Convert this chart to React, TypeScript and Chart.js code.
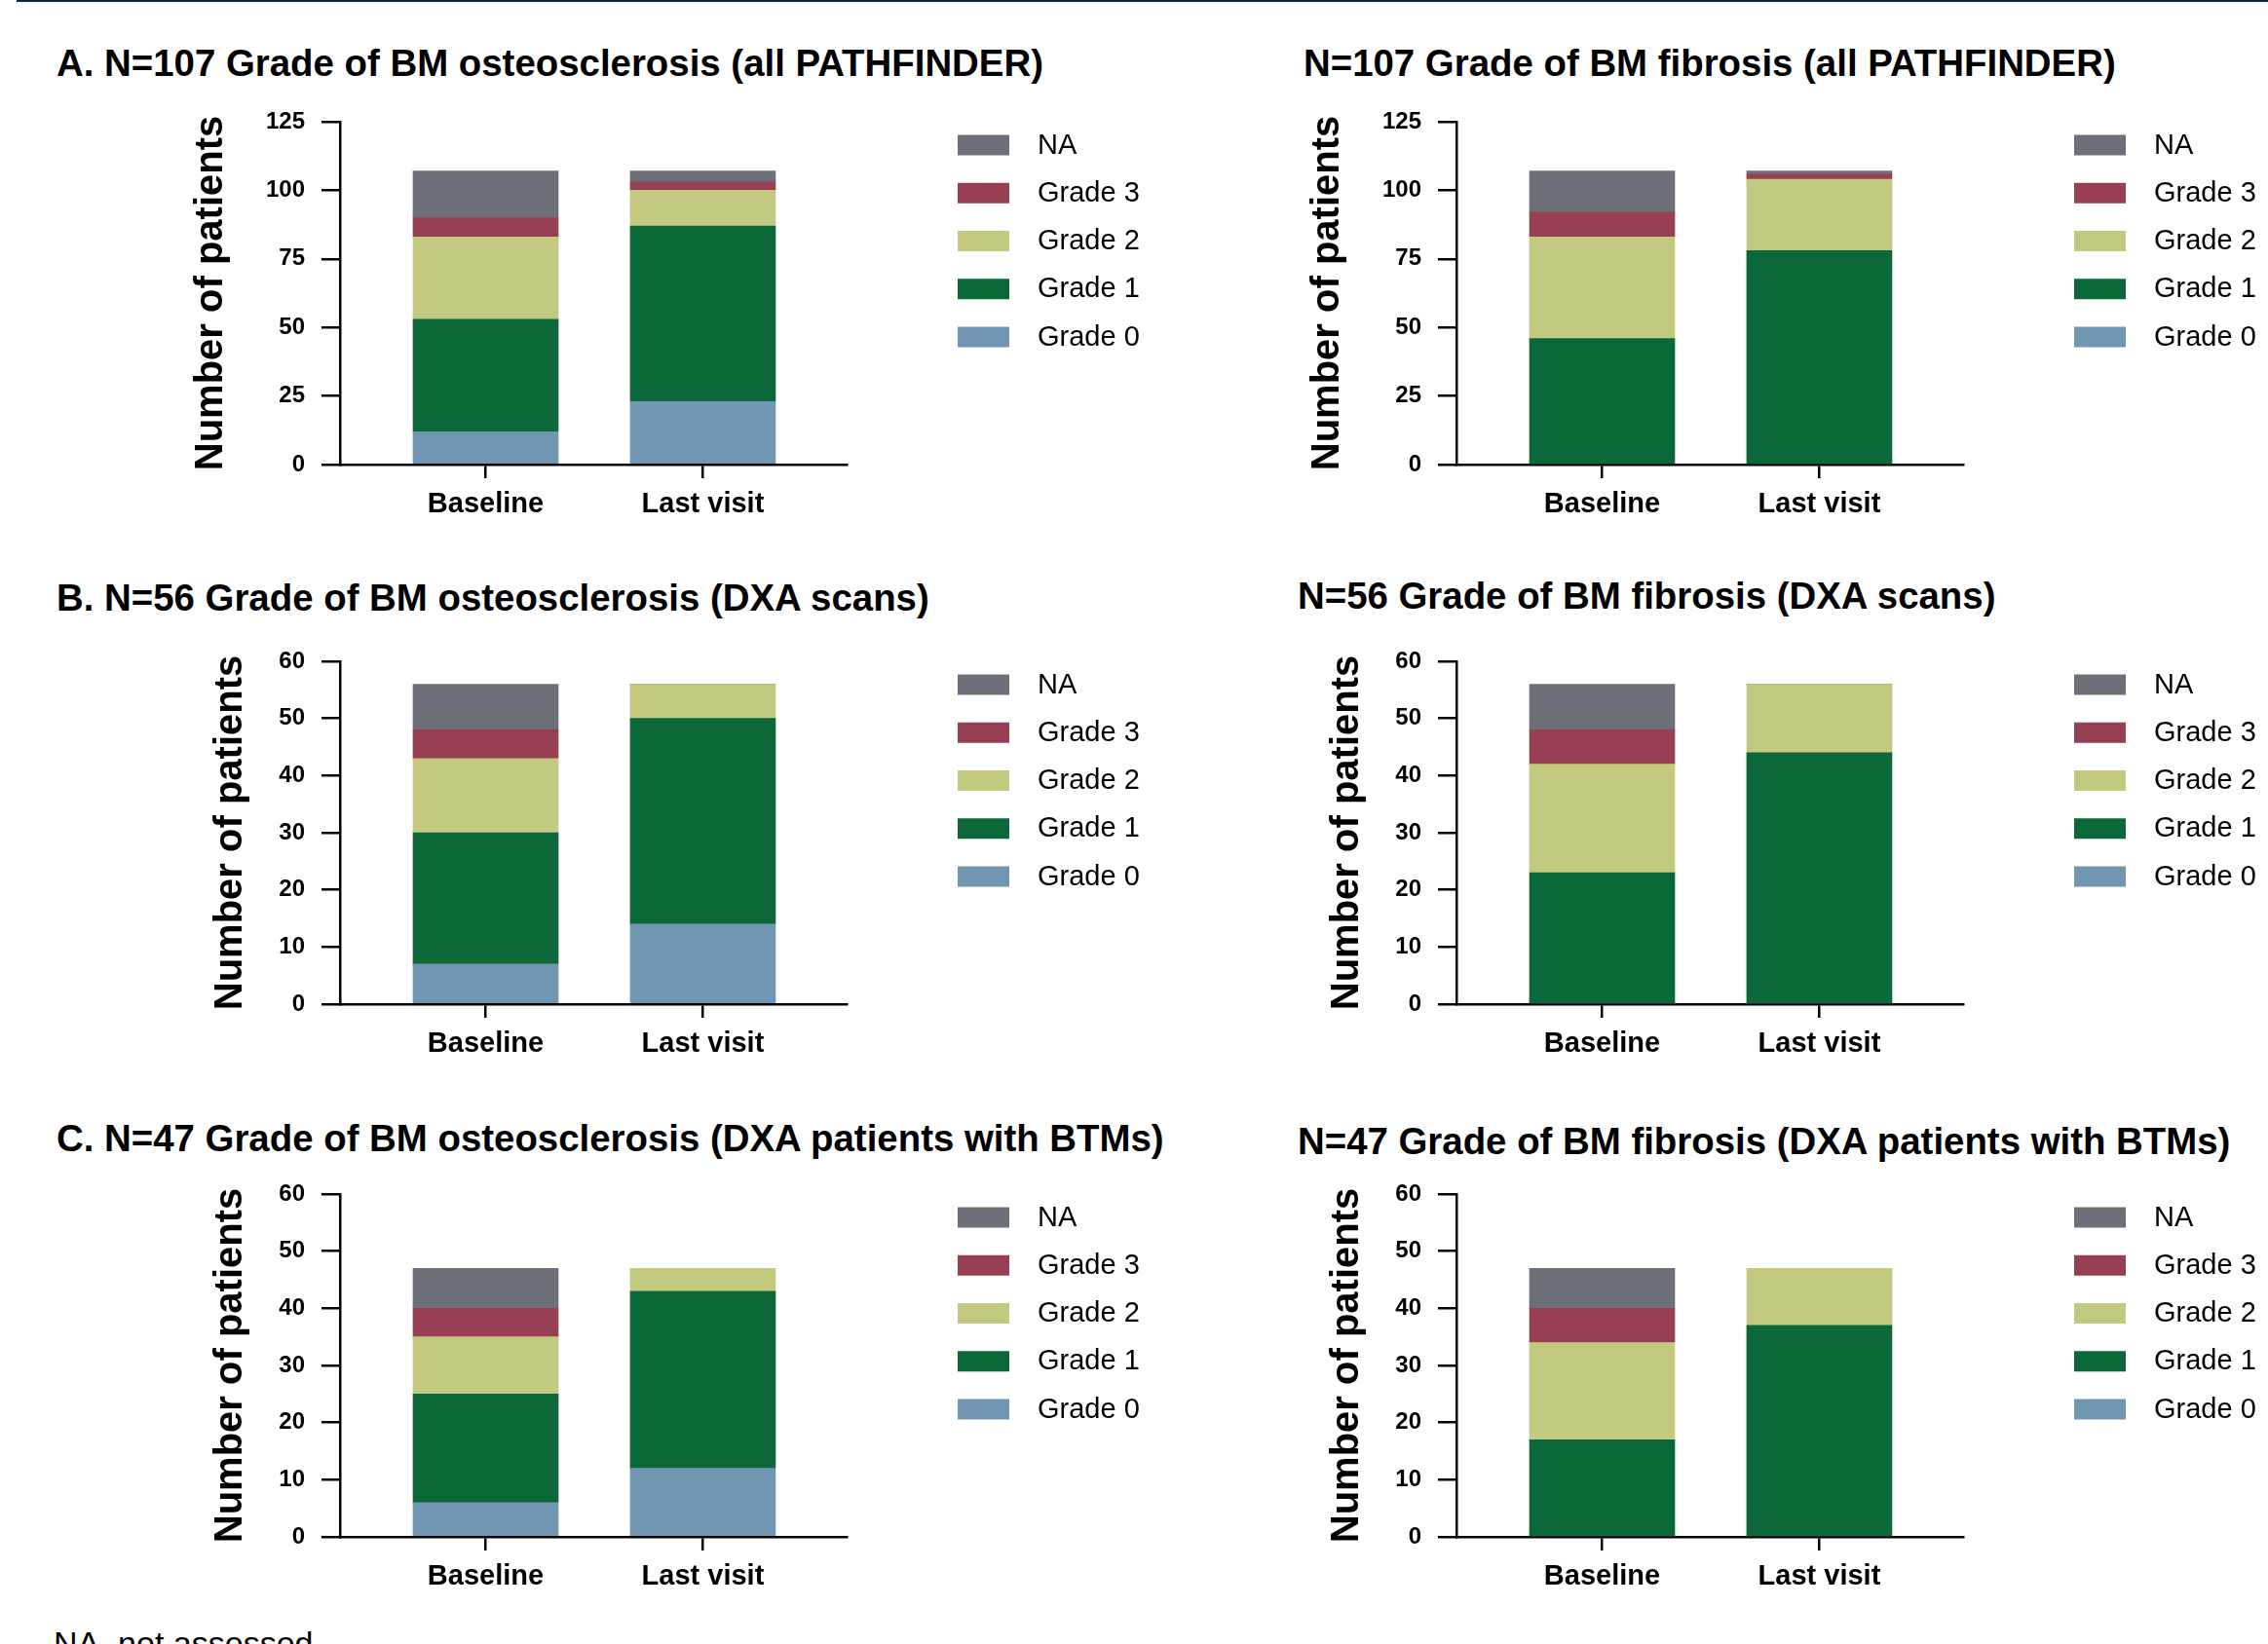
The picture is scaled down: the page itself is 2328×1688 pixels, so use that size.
import React, { useEffect, useRef } from 'react';
import { Chart, registerables } from 'chart.js';

Chart.register(...registerables);

const FONT = "'Liberation Sans', Arial, Helvetica, sans-serif";
Chart.defaults.font.family = FONT;
Chart.defaults.color = '#000';

// ---------- data ----------
const categories = ['Baseline', 'Last visit'];
const gradeLabels = ['Grade 0', 'Grade 1', 'Grade 2', 'Grade 3', 'NA'];
const gradeColors = ['#7096b1', '#0c6838', '#c3c97e', '#983f53', '#6d7078'];

// A. osteosclerosis, all PATHFINDER (N=107)
const osteoAllGrade0 = [12, 23];
const osteoAllGrade1 = [41, 64];
const osteoAllGrade2 = [30, 13];
const osteoAllGrade3 = [7, 3];
const osteoAllNA = [17, 4];

// A. fibrosis, all PATHFINDER (N=107)
const fibAllGrade0 = [0, 0];
const fibAllGrade1 = [46, 78];
const fibAllGrade2 = [37, 26];
const fibAllGrade3 = [9, 2];
const fibAllNA = [15, 1];

// B. osteosclerosis, DXA scans (N=56)
const osteoDxaGrade0 = [7, 14];
const osteoDxaGrade1 = [23, 36];
const osteoDxaGrade2 = [13, 6];
const osteoDxaGrade3 = [5, 0];
const osteoDxaNA = [8, 0];

// B. fibrosis, DXA scans (N=56)
const fibDxaGrade0 = [0, 0];
const fibDxaGrade1 = [23, 44];
const fibDxaGrade2 = [19, 12];
const fibDxaGrade3 = [6, 0];
const fibDxaNA = [8, 0];

// C. osteosclerosis, DXA patients with BTMs (N=47)
const osteoBtmGrade0 = [6, 12];
const osteoBtmGrade1 = [19, 31];
const osteoBtmGrade2 = [10, 4];
const osteoBtmGrade3 = [5, 0];
const osteoBtmNA = [7, 0];

// C. fibrosis, DXA patients with BTMs (N=47)
const fibBtmGrade0 = [0, 0];
const fibBtmGrade1 = [17, 37];
const fibBtmGrade2 = [17, 10];
const fibBtmGrade3 = [6, 0];
const fibBtmNA = [7, 0];

const yTicks125 = { max: 125, step: 25 };
const yTicks60 = { max: 60, step: 10 };

const panels = [
  { title: 'A. N=107 Grade of BM osteosclerosis (all PATHFINDER)', series: [osteoAllGrade0, osteoAllGrade1, osteoAllGrade2, osteoAllGrade3, osteoAllNA], y: yTicks125 },
  { title: 'N=107 Grade of BM fibrosis (all PATHFINDER)', series: [fibAllGrade0, fibAllGrade1, fibAllGrade2, fibAllGrade3, fibAllNA], y: yTicks125 },
  { title: 'B. N=56 Grade of BM osteosclerosis (DXA scans)', series: [osteoDxaGrade0, osteoDxaGrade1, osteoDxaGrade2, osteoDxaGrade3, osteoDxaNA], y: yTicks60 },
  { title: 'N=56 Grade of BM fibrosis (DXA scans)', series: [fibDxaGrade0, fibDxaGrade1, fibDxaGrade2, fibDxaGrade3, fibDxaNA], y: yTicks60 },
  { title: 'C. N=47 Grade of BM osteosclerosis (DXA patients with BTMs)', series: [osteoBtmGrade0, osteoBtmGrade1, osteoBtmGrade2, osteoBtmGrade3, osteoBtmNA], y: yTicks60 },
  { title: 'N=47 Grade of BM fibrosis (DXA patients with BTMs)', series: [fibBtmGrade0, fibBtmGrade1, fibBtmGrade2, fibBtmGrade3, fibBtmNA], y: yTicks60 },
];

// ---------- layout ----------
const columns = [
  { canvasLeft: 190, canvasWidth: 1010, padRight: 331 },
  { canvasLeft: 1336, canvasWidth: 992, padRight: 313 },
];
const PAD_TOP = 40;
const rows = [
  { areaTop: 125, yTitlePad: 3 },
  { areaTop: 679, yTitlePad: 23 },
  { areaTop: 1226, yTitlePad: 23 },
];
const AREA_H = 352;
const XSCALE_H = 60;
const CANVAS_H = PAD_TOP + AREA_H + XSCALE_H;
const titlePos = [
  { x: 58, base: 78 },
  { x: 1338, base: 78 },
  { x: 58, base: 627 },
  { x: 1332, base: 625 },
  { x: 58, base: 1182 },
  { x: 1332, base: 1185 },
];

const sideLegend = {
  id: 'sideLegend',
  afterDraw(chart: any) {
    const { ctx, chartArea } = chart;
    const ds = chart.data.datasets;
    ctx.save();
    ctx.font = `29px ${FONT}`;
    ctx.textBaseline = 'middle';
    ctx.textAlign = 'left';
    for (let k = 0; k < ds.length; k++) {
      const d = ds[ds.length - 1 - k];
      const x = chartArea.right + 114;
      const y = chartArea.top + 13.5 + k * 49.25;
      ctx.fillStyle = d.backgroundColor;
      ctx.fillRect(x, y, 53, 21);
      ctx.fillStyle = '#000';
      ctx.fillText(d.label, x + 82, y + 11);
    }
    ctx.restore();
  },
};

function Panel({ index }: { index: number }) {
  const ref = useRef<HTMLCanvasElement>(null);
  const p = panels[index];
  const col = columns[index % 2];
  const row = rows[Math.floor(index / 2)];

  useEffect(() => {
    if (!ref.current) return;
    const chart = new Chart(ref.current, {
      type: 'bar',
      data: {
        datasets: p.series.map((vals, i) => ({
          label: gradeLabels[i],
          data: vals.map((v, j) => ({ x: j, y: v })),
          backgroundColor: gradeColors[i],
          borderWidth: 0,
          barThickness: 149,
        })),
      },
      options: {
        responsive: false,
        animation: false,
        layout: { padding: { top: PAD_TOP, right: col.padRight, bottom: 0, left: 0 } },
        plugins: { legend: { display: false }, tooltip: { enabled: false } },
        scales: {
          x: {
            type: 'linear',
            stacked: true,
            offset: false,
            min: -0.6705,
            max: 1.6617,
            afterBuildTicks: (s: any) => {
              s.ticks = categories.map((_, i) => ({ value: i }));
            },
            afterFit: (s: any) => {
              s.height = XSCALE_H;
            },
            ticks: {
              callback: (v: any) => categories[v] ?? '',
              font: { size: 29, weight: 'bold' },
              color: '#000',
              padding: 10,
              maxRotation: 0,
              minRotation: 0,
              autoSkip: false,
            },
            grid: { offset: false, drawOnChartArea: false, drawTicks: true, tickLength: 14, color: '#000', lineWidth: 2.5 },
            border: { display: true, color: '#000', width: 2.5 },
          },
          y: {
            stacked: true,
            min: 0,
            max: p.y.max,
            afterFit: (s: any) => {
              s.width = 159;
            },
            ticks: { stepSize: p.y.step, font: { size: 24, weight: 'bold' }, color: '#000', padding: 17 },
            grid: { drawOnChartArea: false, drawTicks: true, tickLength: 19, color: '#000', lineWidth: 2.5 },
            border: { display: true, color: '#000', width: 2.5 },
            title: {
              display: true,
              text: 'Number of patients',
              font: { size: 40, weight: 'bold' },
              color: '#000',
              padding: { top: row.yTitlePad, bottom: 0 },
            },
          },
        },
      } as any,
      plugins: [sideLegend],
    });
    return () => chart.destroy();
  }, []);

  return (
    <canvas
      ref={ref}
      width={col.canvasWidth}
      height={CANVAS_H}
      style={{ position: 'absolute', left: col.canvasLeft, top: row.areaTop - PAD_TOP, width: col.canvasWidth, height: CANVAS_H }}
    />
  );
}

export default function App() {
  return (
    <div
      style={{
        position: 'absolute',
        left: 0,
        top: 0,
        width: 2328,
        height: 1688,
        overflow: 'hidden',
        background: '#fff',
        fontFamily: FONT,
        color: '#000',
      }}
    >
      <div style={{ position: 'absolute', left: 17, top: 0, width: 2311, height: 2, background: '#0b2742' }} />
      {panels.map((p, i) => (
        <div
          key={'t' + i}
          style={{
            position: 'absolute',
            left: titlePos[i].x,
            top: titlePos[i].base - 32,
            fontSize: 38.4,
            lineHeight: '38px',
            fontWeight: 'bold',
            whiteSpace: 'nowrap',
          }}
        >
          {p.title}
        </div>
      ))}
      {panels.map((_, i) => (
        <Panel key={'p' + i} index={i} />
      ))}
      <div
        style={{
          position: 'absolute',
          left: 55,
          top: 1670,
          fontSize: 34,
          lineHeight: '34px',
          whiteSpace: 'nowrap',
        }}
      >
        NA, not assessed
      </div>
    </div>
  );
}
